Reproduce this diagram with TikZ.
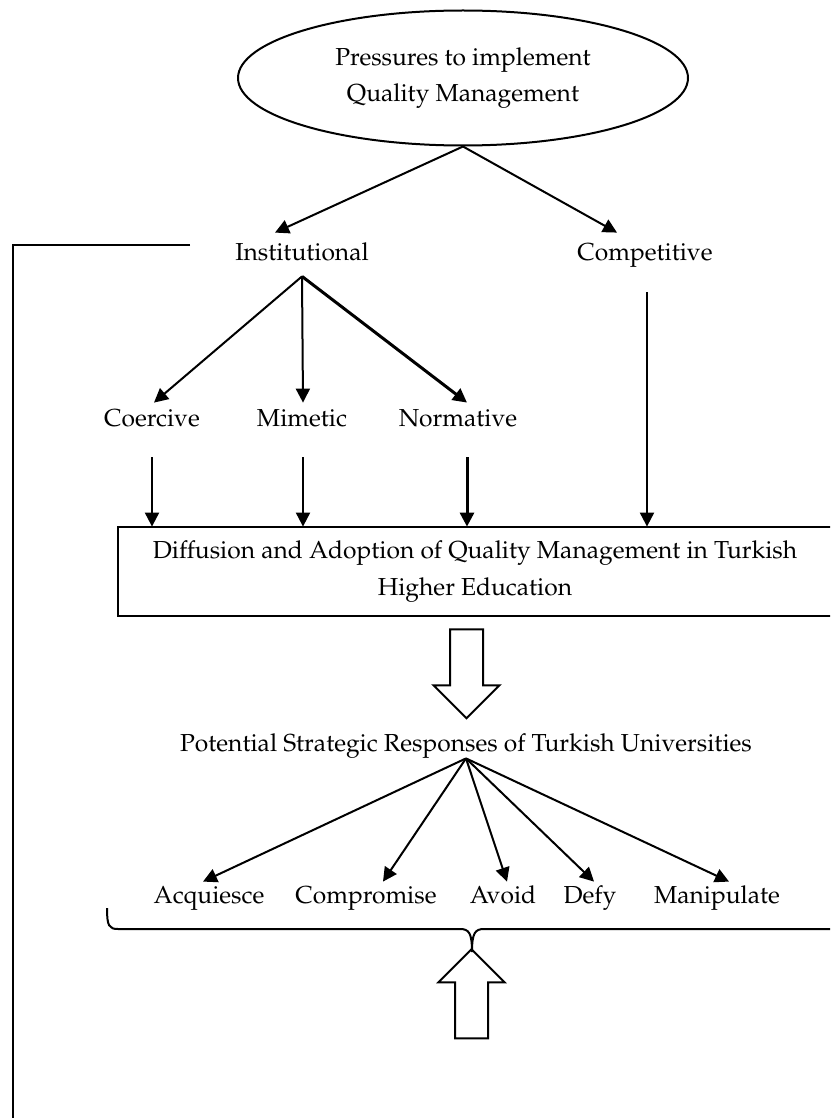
\documentclass[tikz,border=0pt]{standalone}
\usepackage[T1]{fontenc}
\usepackage{mathpazo}
\usepackage{tikz}
\usetikzlibrary{arrows.meta,shapes,positioning}
\tikzstyle{txt}   =[inner sep=5pt, text height=8.5pt, text depth=2.5pt,
                    font=\fontsize{12.3}{18}\selectfont]
\tikzstyle{oval}  =[ellipse, draw, line width=1pt, minimum width=225pt,
                    minimum height=67.5pt, align=center,
                    font=\fontsize{12.3}{18}\selectfont]
\tikzstyle{box}   =[rectangle, minimum width=357pt,
                    minimum height=44.5pt, align=center,
                    font=\fontsize{12.3}{18.5}\selectfont]
\tikzstyle{edge}  =[-{Triangle[length=7pt,width=7pt]}, line width=1pt]
\tikzstyle{wedge} =[-{Triangle[length=7pt,width=7pt]}, line width=1.5pt]
\tikzstyle{fatarrow}=[single arrow, draw, line width=1pt, rotate=-90,
                    minimum height=44.5pt, inner sep=7.75pt,
                    single arrow head extend=8.25pt]

\begin{document}
\begin{tikzpicture}[x=0.5pt,y=-0.5pt]
    \clip (0,0) rectangle (830,1118);

    % pressures
    \node[oval] (p) at (463,78) {Pressures to implement\\Quality Management};
    \node[txt] (inst) at (302,255) {Institutional};
    \node[txt] (comp) at (645,255) {Competitive};
    \draw[edge] (p.south) -- ([xshift=-13.5pt,yshift=0.5pt]inst.north);
    \draw[edge] (p.south) -- ([xshift=-14pt,yshift=0.5pt]comp.north);

    % institutional kinds
    \node[txt] (coer) at (152,420) {Coercive};
    \node[txt] (mim) at (302,420) {Mimetic};
    \node[txt] (norm) at (458,420) {Normative};
    \foreach \i/\d in {coer/1pt,mim/0.5pt}
        \draw[edge] (inst.south) -- ([xshift=\d,yshift=-2pt]\i.north);
    \draw[wedge] (inst.south) -- ([xshift=4.5pt,yshift=-2pt]norm.north);

    % diffusion box
    \node[box] (dif) at (475,571.5)
        {Diffusion and Adoption of Quality Management in Turkish\\Higher Education};
    \foreach \i/\d in {coer/0pt,mim/0.5pt,comp/1pt}
        \draw[edge] ([xshift=\d,yshift=-8pt]\i.south) -- ([xshift=\d]\i.south |- dif.north);
    \draw[wedge] ([xshift=4.5pt,yshift=-8pt]norm.south) -- ([xshift=4.5pt]norm.south |- dif.north);
    \draw[line width=1pt] (dif.north east) -- (dif.north west) -- (dif.south west) -- (dif.south east);

    \node[fatarrow] (dn) at (466.5,665.5) {};

    % responses
    \node[txt] (pot) at (466,745) {Potential Strategic Responses of Turkish Universities};
    \node[txt] (r1) at (209,897) {Acquiesce};
    \node[txt] (r2) at (366,897) {Compromise};
    \node[txt] (r3) at (503,897) {Avoid};
    \node[txt] (r4) at (590,897) {Defy};
    \node[txt] (r5) at (717,897) {Manipulate};
    \foreach \i/\d in {r1/-3pt,r2/8.5pt,r3/2pt,r4/2pt,r5/6pt}
        \draw[edge] ([yshift=4pt]pot.south) -- ([xshift=\d,yshift=-3pt]\i.north);

    % brace and feedback
    \draw[line width=1pt] (107,908) .. controls (107,926) and (109,929) .. (118,929)
        -- (460,929) .. controls (469,929) and (472,933) .. (472,952)
        .. controls (472,933) and (475,929) .. (484,929) -- (840,929);
    \node[fatarrow, rotate=180] (up) at (471.5,1002) {};
    \coordinate (fbtop) at (190,245);
    \coordinate (fbbot) at (13,1125);
    \draw[line width=1.3pt] (fbtop) -| (fbbot);
\end{tikzpicture}
\end{document}
